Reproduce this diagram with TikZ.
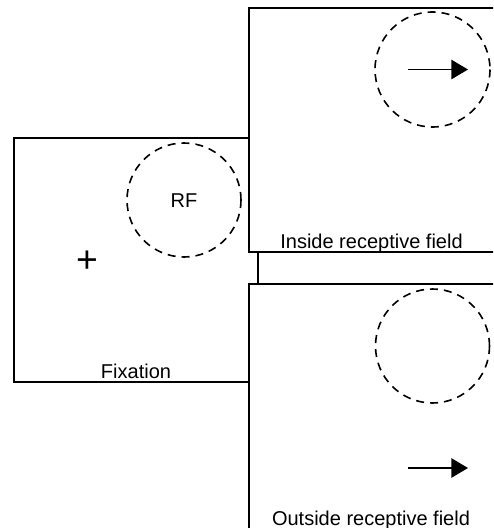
\documentclass[tikz,border=0pt]{standalone}
\usepackage{fontspec}
\setmainfont{Liberation Sans}
\usetikzlibrary{arrows.meta}
\usetikzlibrary{positioning}
\tikzset{frame/.style = {line width=1.2pt},
         rf/.style = {dash pattern=on 6pt off 4.5pt, line width=1.2pt},
         motion/.style = {-{Triangle[length=12.5pt, width=14.5pt]}, line width=1.3pt},
         caption/.style = {font=\fontsize{15}{18}\selectfont, inner sep=0pt}}

\begin{document}
\begin{tikzpicture}[x=0.75pt, y=-0.75pt]
    \useasboundingbox (0, 0) rectangle (493, 528);
    \clip (0, 0) rectangle (493, 528);

    % fixation screen
    \draw [frame] (249, 138) -- (14, 138) -- (14, 382) -- (249, 382);
    \draw [rf] (184, 200) circle [radius=57];
    \node [caption, anchor=base] (rf) at (184, 207) {RF};
    \node [caption, font=\fontsize{28}{30}\selectfont] (cross) at (87, 262) {+};
    \node [caption, anchor=base] (fix) at (136, 378) {Fixation};

    % inside receptive field
    \coordinate (inlink) at (258, 252);
    \draw [frame] (500, 8) -- (249, 8) -- (249, 252) -- (500, 252);
    \draw [rf] (432.5, 69.5) circle [radius=57.5];
    \coordinate (instart) at (408, 69.5);
    \coordinate (inend) at (468, 69.5);
    \draw [motion] (instart) -- (inend);
    \node [caption, anchor=base] (inside) at (371.5, 248) {Inside receptive field};

    % outside receptive field
    \coordinate (outlink) at (258, 284);
    \draw [frame] (500, 284) -- (249, 284) -- (249, 540);
    \draw [rf] (432.5, 346) circle [radius=57];
    \coordinate (outstart) at (408, 468);
    \coordinate (outend) at (468, 468);
    \draw [motion] (outstart) -- (outend);
    \node [caption, anchor=base] (outside) at (371, 525) {Outside receptive field};

    \draw [frame] (inlink) -- (outlink);
  \end{tikzpicture}
\end{document}
